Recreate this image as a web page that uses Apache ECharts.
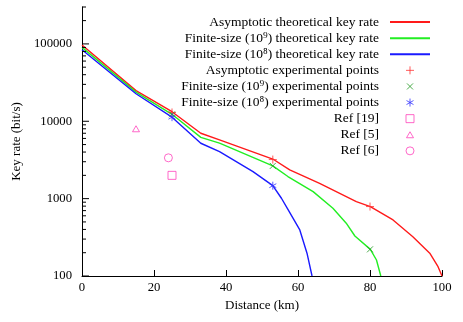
<!DOCTYPE html>
<html>
<head>
<meta charset="utf-8">
<title>Key rate vs distance</title>
<script src="https://cdn.jsdelivr.net/npm/echarts@6/dist/echarts.min.js"></script>
<style>
  html, body { margin: 0; padding: 0; background: #fff; }
  #chart { width: 463px; height: 322px; }
</style>
</head>
<body>
<div id="chart"></div>
<script>
// 理论曲线 [距离 km, 密钥率 bit/s]
var asymCurve = [[0, 97000], [15, 24900], [25, 13300], [33, 7000], [38.2, 5740], [53, 3250], [57.7, 2350],
  [66, 1580], [76.2, 914], [80.1, 789], [86.4, 530], [91.9, 322], [96.6, 197], [98.9, 132], [100, 100]];
var fin9Curve = [[0, 90300], [15, 23800], [25, 12300], [33, 6200], [38.2, 5210], [53, 2650], [57.2, 1930],
  [64.2, 1233], [69.7, 752], [73.4, 481], [75.8, 329], [80.1, 221], [81.8, 161], [83, 100]];
var fin8Curve = [[0, 84000], [15, 22700], [25, 11300], [33, 5200], [38.2, 4055], [47.5, 2234], [53, 1472],
  [55.4, 1012], [57.2, 728], [60.5, 394], [62.5, 197], [63.9, 100]];

// 实验点
var asymPoints = [[25, 13000], [53, 3200], [80, 790]];
var fin9Points = [[25, 12300], [53, 2650], [80, 221]];
var fin8Points = [[25, 11300], [53, 1470]];
var ref19 = [[25, 2000]];
var ref5 = [[15, 8000]];
var ref6 = [[24, 3370]];

var xTicks = [0, 20, 40, 60, 80, 100];
var yMajor = [100, 1000, 10000, 100000];

var names = [
  'Asymptotic theoretical key rate',
  'Finite-size (10\u2079) theoretical key rate',
  'Finite-size (10\u2078) theoretical key rate',
  'Asymptotic experimental points',
  'Finite-size (10\u2079) experimental points',
  'Finite-size (10\u2078) experimental points',
  'Ref [19]',
  'Ref [5]',
  'Ref [6]'
];

// 对数轴刻度（内侧）
var yTickData = [];
yMajor.forEach(function(m) {
  yTickData.push([0, m, 7]);
  for (var k = 2; k <= 9; k++) {
    if (m * k <= 300000) yTickData.push([0, m * k, 4]);
  }
});

// 符号（M0,0M12,12 撑开包围盒）
var symPlus = 'path://M0,0M12,12M6,2L6,10M2,6L10,6';
var symCross = 'path://M0,0M12,12M3,3L9,9M9,3L3,9';
var symStar = 'path://M0,0M12,12M6,2L6,10M2.5,4L9.5,8M2.5,8L9.5,4';
var symSquare = 'path://M0,0M12,12M2,2L10,2L10,10L2,10Z';
var symTri = 'path://M0,0M12,12M6,3L9.5,9L2.5,9Z';
var symCircle = 'path://M0,0M12,12M2,6A4,4 0 1,0 10,6A4,4 0 1,0 2,6Z';
var lineIcon = 'path://M0,0L40,0L40,2L0,2Z';

var font = 'Liberation Serif';
var pink = '#ff44bb';
var lineColors = ['#ff1a1a', '#22ee22', '#1a1aff'];

function lineSeries(name, data, color) {
  return {
    name: name, type: 'line', data: data, symbol: 'none', smooth: false,
    lineStyle: { color: color, width: 1.4 }, itemStyle: { color: color },
    animation: false, z: 3
  };
}
function pointSeries(name, data, sym, color) {
  return {
    name: name, type: 'scatter', data: data, symbol: sym, symbolSize: 12,
    itemStyle: { color: 'rgba(0,0,0,0)', borderColor: color, borderWidth: 1 },
    animation: false, z: 4
  };
}

var legendData = names.map(function(n, i) {
  if (i < 3) {
    return { name: n, icon: lineIcon, itemStyle: { color: lineColors[i], borderWidth: 0 } };
  }
  return { name: n };
});

var myChart = echarts.init(document.getElementById('chart'));
var option = {
  backgroundColor: '#fff',
  textStyle: { fontFamily: font },
  grid: { left: 82, right: 21, top: 7, bottom: 46 },
  legend: {
    data: legendData,
    orient: 'vertical',
    right: 28,
    top: 9,
    align: 'right',
    itemWidth: 40,
    itemHeight: 12,
    itemGap: 0,
    selectedMode: false,
    itemStyle: { borderWidth: 1 },
    textStyle: { fontFamily: font, fontSize: 13.5, color: '#000', lineHeight: 16.1, padding: [0, 6, 0, 0] }
  },
  xAxis: {
    type: 'value', min: 0, max: 100, interval: 20,
    name: 'Distance (km)', nameLocation: 'middle', nameGap: 20.5,
    nameTextStyle: { fontFamily: font, fontSize: 13, color: '#000' },
    axisLine: { lineStyle: { color: '#000', width: 1 } },
    axisTick: { inside: true, length: 6, lineStyle: { color: '#000' } },
    axisLabel: { fontFamily: font, fontSize: 12.7, color: '#000', margin: 5 },
    splitLine: { show: false }
  },
  yAxis: {
    type: 'log', logBase: 10, min: 100, max: 300000,
    name: 'Key rate (bit/s)', nameLocation: 'middle', nameGap: 58,
    nameTextStyle: { fontFamily: font, fontSize: 13, color: '#000' },
    axisLine: { show: true, lineStyle: { color: '#000', width: 1 } },
    axisTick: { show: false },
    axisLabel: {
      fontFamily: font, fontSize: 12.7, color: '#000', margin: 10,
      formatter: function(v) {
        var r = Math.round(v);
        return yMajor.indexOf(r) >= 0 ? String(r) : '';
      }
    },
    splitLine: { show: false }
  },
  series: [
    lineSeries(names[0], asymCurve, lineColors[0]),
    lineSeries(names[1], fin9Curve, lineColors[1]),
    lineSeries(names[2], fin8Curve, lineColors[2]),
    pointSeries(names[3], asymPoints, symPlus, '#ff3333'),
    pointSeries(names[4], fin9Points, symCross, '#229922'),
    pointSeries(names[5], fin8Points, symStar, '#3333ff'),
    pointSeries(names[6], ref19, symSquare, pink),
    pointSeries(names[7], ref5, symTri, pink),
    pointSeries(names[8], ref6, symCircle, pink),
    {
      name: 'ticks', type: 'custom', data: yTickData, silent: true, animation: false, z: 5,
      renderItem: function(params, api) {
        var p = api.coord([0, api.value(1)]);
        var len = api.value(2);
        return {
          type: 'line',
          shape: { x1: p[0], y1: p[1], x2: p[0] + len, y2: p[1] },
          style: { stroke: '#000', lineWidth: 1 }
        };
      }
    }
  ]
};
myChart.setOption(option);
</script>
</body>
</html>
